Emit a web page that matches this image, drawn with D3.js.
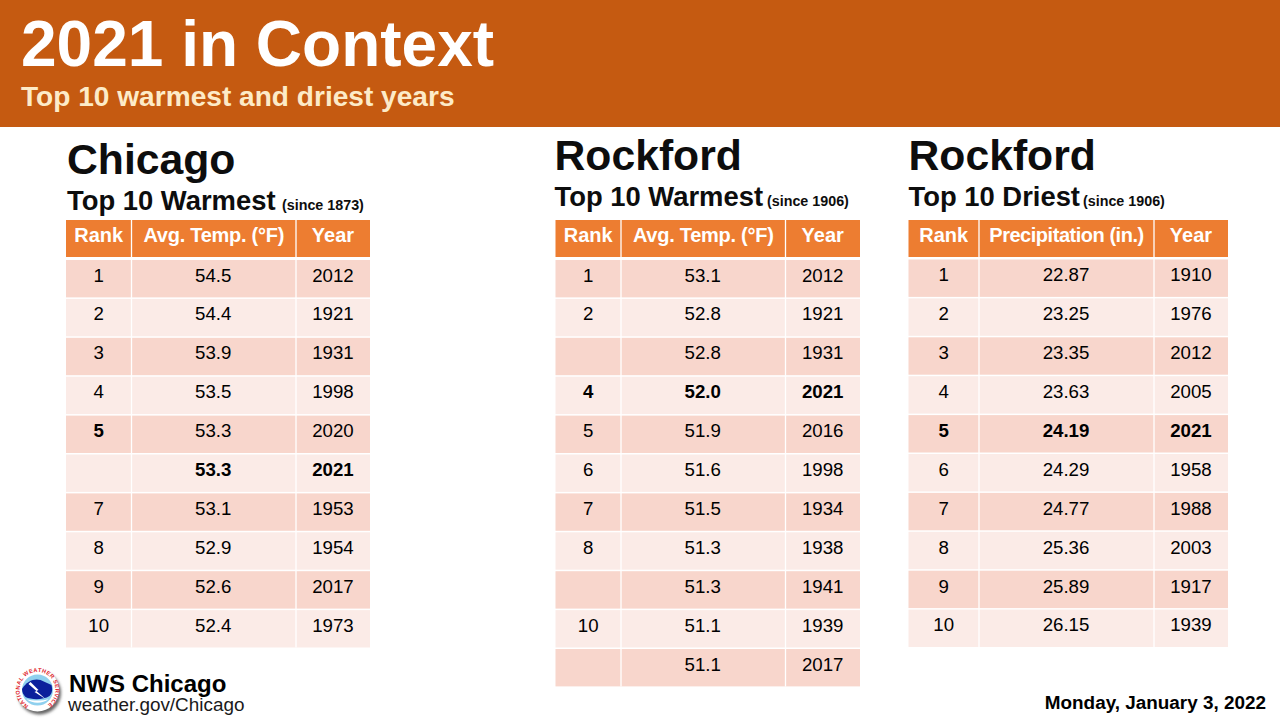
<!DOCTYPE html>
<html>
<head>
<meta charset="utf-8">
<script src="https://cdn.jsdelivr.net/npm/d3@7"></script>
<style>
  html, body { margin: 0; padding: 0; background: #fff; }
  svg { display: block; }
  text { font-family: "Liberation Sans", Arial, sans-serif; }
</style>
</head>
<body>
<script>
const width = 1280;
const height = 720;

const chicagoRanks = ["1", "2", "3", "4", "5", "", "7", "8", "9", "10"];
const chicagoTemps = ["54.5", "54.4", "53.9", "53.5", "53.3", "53.3", "53.1", "52.9", "52.6", "52.4"];
const chicagoYears = ["2012", "1921", "1931", "1998", "2020", "2021", "1953", "1954", "2017", "1973"];

const rockfordRanks = ["1", "2", "", "4", "5", "6", "7", "8", "", "10", ""];
const rockfordTemps = ["53.1", "52.8", "52.8", "52.0", "51.9", "51.6", "51.5", "51.3", "51.3", "51.1", "51.1"];
const rockfordYears = ["2012", "1921", "1931", "2021", "2016", "1998", "1934", "1938", "1941", "1939", "2017"];

const dryRanks = ["1", "2", "3", "4", "5", "6", "7", "8", "9", "10"];
const dryPrecip = ["22.87", "23.25", "23.35", "23.63", "24.19", "24.29", "24.77", "25.36", "25.89", "26.15"];
const dryYears = ["1910", "1976", "2012", "2005", "2021", "1958", "1988", "2003", "1917", "1939"];

const tempHeader = ["Rank", "Avg. Temp. (°F)", "Year"];
const precipHeader = ["Rank", "Precipitation (in.)", "Year"];

const orange = "#ed7d31";
const banner = "#c55a11";
const rowDark = "#f8d6cc";
const rowLight = "#fbebe7";

const svg = d3.select("body").append("svg")
  .attr("width", width)
  .attr("height", height)
  .attr("viewBox", `0 0 ${width} ${height}`);

// top banner
svg.append("rect").attr("width", width).attr("height", 127).attr("fill", banner);
svg.append("text").attr("x", 21).attr("y", 66)
  .attr("font-size", 64).attr("font-weight", "bold").attr("fill", "#fff")
  .text("2021 in Context");
svg.append("text").attr("x", 21).attr("y", 105.5)
  .attr("font-size", 28.1).attr("font-weight", "bold").attr("fill", "#fdebc8")
  .text("Top 10 warmest and driest years");

const tables = [
  {
    city: "Chicago", cityX: 67, cityY: 174, sub: "Top 10 Warmest", since: "(since 1873)", subY: 210, sinceX: 282,
    edges: [66, 131.5, 296, 370], headerY: 220, rowsTop: 258.5,
    header: tempHeader, headSpacing: [0, -0.27, 0], cols: [chicagoRanks, chicagoTemps, chicagoYears],
    bold: [[4, 0], [5, 1], [5, 2]], textDy: 0
  },
  {
    city: "Rockford", cityX: 554.5, cityY: 170, sub: "Top 10 Warmest", since: "(since 1906)", subY: 206, sinceX: 767,
    edges: [555.5, 621, 785.5, 860], headerY: 220, rowsTop: 258.5,
    header: tempHeader, headSpacing: [0, -0.27, 0], cols: [rockfordRanks, rockfordTemps, rockfordYears],
    bold: [[3, 0], [3, 1], [3, 2]], textDy: 0
  },
  {
    city: "Rockford", cityX: 908.5, cityY: 170, sub: "Top 10 Driest", since: "(since 1906)", subY: 206, sinceX: 1083,
    edges: [908.5, 979, 1154, 1228], headerY: 220, rowsTop: 258,
    header: precipHeader, headSpacing: [0, -0.47, 0], cols: [dryRanks, dryPrecip, dryYears],
    bold: [[4, 0], [4, 1], [4, 2]], textDy: 0.4
  }
];

const rowStep = 38.9;
const headerHeight = 38;

tables.forEach(t => {
  const g = svg.append("g");
  const nRows = t.cols[0].length;

  g.append("text").attr("x", t.cityX).attr("y", t.cityY)
    .attr("font-size", 42.7).attr("font-weight", "bold").attr("fill", "#0d0d0d")
    .text(t.city);

  const sub = g.append("text").attr("y", t.subY)
    .attr("font-weight", "bold").attr("fill", "#0d0d0d");
  sub.append("tspan").attr("x", t.cityX).attr("font-size", 27.4).text(t.sub);
  sub.append("tspan").attr("x", t.sinceX).attr("font-size", 14.3).text(t.since);

  const y = d3.scaleBand()
    .domain(d3.range(nRows))
    .range([t.rowsTop, t.rowsTop + rowStep * nRows]);

  const colIndex = d3.range(3);

  // header cells
  g.selectAll(".head").data(colIndex).enter().append("rect")
    .attr("class", "head")
    .attr("x", c => t.edges[c])
    .attr("y", t.headerY)
    .attr("width", c => t.edges[c + 1] - t.edges[c])
    .attr("height", headerHeight - 1)
    .attr("fill", orange);
  g.selectAll(".headText").data(colIndex).enter().append("text")
    .attr("class", "headText")
    .attr("x", c => (t.edges[c] + t.edges[c + 1]) / 2)
    .attr("y", t.headerY + 22)
    .attr("text-anchor", "middle")
    .attr("font-size", 20).attr("font-weight", "bold").attr("fill", "#fff")
    .attr("letter-spacing", c => t.headSpacing[c])
    .text(c => t.header[c]);

  // body cells
  const rows = g.selectAll(".row").data(d3.range(nRows)).enter().append("g")
    .attr("class", "row")
    .attr("transform", r => `translate(0,${y(r)})`);

  rows.selectAll("rect").data(r => colIndex.map(c => ({r, c}))).enter().append("rect")
    .attr("x", d => t.edges[d.c])
    .attr("y", 1.5)
    .attr("width", d => t.edges[d.c + 1] - t.edges[d.c])
    .attr("height", y.bandwidth() - 1.5)
    .attr("fill", d => d.r % 2 === 0 ? rowDark : rowLight);

  rows.selectAll("text").data(r => colIndex.map(c => ({r, c}))).enter().append("text")
    .attr("x", d => (t.edges[d.c] + t.edges[d.c + 1]) / 2 - (d.c === 1 ? 0.5 : 0))
    .attr("y", 23 + t.textDy)
    .attr("text-anchor", "middle")
    .attr("font-size", 18.67).attr("fill", "#000")
    .attr("font-weight", d => t.bold.some(b => b[0] === d.r && b[1] === d.c) ? "bold" : "normal")
    .text(d => t.cols[d.c][d.r]);

  // white column rules
  g.selectAll(".rule").data(t.edges.slice(1, 3)).enter().append("line")
    .attr("class", "rule")
    .attr("x1", d => d).attr("x2", d => d)
    .attr("y1", t.headerY).attr("y2", t.rowsTop + rowStep * nRows)
    .attr("stroke", "#fff").attr("stroke-width", 1.3);
});

// NWS logo
const defs = svg.append("defs");
defs.append("path").attr("id", "ring").attr("d", "M-9,15.5 A18,18 0 1 1 9,15.5");
defs.append("filter").attr("id", "soft").append("feGaussianBlur").attr("stdDeviation", 1.5);

const logo = svg.append("g").attr("transform", "translate(37.5,690)");
logo.append("circle").attr("cx", 2).attr("cy", 3).attr("r", 21.5).attr("fill", "#666").attr("filter", "url(#soft)");
logo.append("circle").attr("r", 21.5).attr("fill", "#fff");
logo.append("text").attr("font-size", 5.6).attr("font-weight", "bold").attr("fill", "#e0242c")
  .attr("letter-spacing", 0.35)
  .append("textPath").attr("href", "#ring")
  .text("NATIONAL WEATHER SERVICE");
logo.append("circle").attr("r", 15.5).attr("fill", "#8fd0ee");
logo.append("path")
  .attr("d", "M-15.5,-1 C-11,-9 -3,-12 3,-10 L14,-5 C15,-1 15,3 12,6 C6,10 -6,10 -12,7 C-14,5 -15.5,2 -15.5,-1Z")
  .attr("fill", "#0a1f9c");
logo.append("path").attr("d", "M-7,-8 L1,0 L-1,1 L8,9 L-3,2 L-1,1 L-9,-6Z").attr("fill", "#fff");
logo.append("path").attr("d", "M-11,9 C-5,14 5,14 11,9 C5,11 -5,11 -11,9Z").attr("fill", "#fff");

// footer
svg.append("text").attr("x", 69).attr("y", 692)
  .attr("font-size", 24).attr("font-weight", "bold").attr("fill", "#000").text("NWS Chicago");
svg.append("text").attr("x", 68).attr("y", 711)
  .attr("font-size", 18.9).attr("fill", "#1a1a1a").text("weather.gov/Chicago");
svg.append("text").attr("x", 1266).attr("y", 709).attr("text-anchor", "end")
  .attr("font-size", 18.9).attr("font-weight", "bold").attr("fill", "#000").text("Monday, January 3, 2022");
</script>
</body>
</html>
